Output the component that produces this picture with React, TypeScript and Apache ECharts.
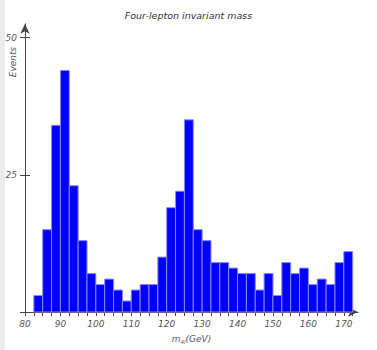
import React, { useEffect, useRef } from "react";
import * as echarts from "echarts";

// Histogram bins (lower edge, upper edge) in GeV and event counts
const binLow = [82.5, 85, 87.5, 90, 92.5, 95, 97.5, 100, 102.5, 105, 107.5, 110, 112.5, 115, 117.5, 120, 122.5, 125, 127.5, 130, 132.5, 135, 137.5, 140, 142.5, 145, 147.5, 150, 152.5, 155, 157.5, 160, 162.5, 165, 167.5, 170];
const binWidth = 2.5;
const counts = [3, 15, 34, 44, 23, 13, 7, 5, 6, 4, 2, 4, 5, 5, 10, 19, 22, 35, 15, 13, 9, 9, 8, 7, 7, 4, 7, 3, 9, 7, 8, 5, 6, 5, 9, 11];

const xTickLabels = [80, 90, 100, 110, 120, 130, 140, 150, 160, 170];
const xMinorTicks = [80, ...binLow, 172.5];
const yTickLabels = [0, 25, 50];

const FONT = "DejaVu Sans";

export default function App() {
  const ref = useRef<HTMLDivElement>(null);
  useEffect(() => {
    if (!ref.current) return;
    const chart = echarts.init(ref.current, null, { renderer: "svg" });
    const data = binLow.map((lo, i) => [lo, lo + binWidth, counts[i]]);
    const labelStyle = { fontFamily: FONT, fontStyle: "italic", fontSize: 9, color: "#555" };
    chart.setOption({
      animation: false,
      backgroundColor: "#fff",
      title: {
        text: "Four-lepton invariant mass",
        left: "center",
        top: 5,
        textStyle: { fontFamily: FONT, fontStyle: "italic", fontWeight: "normal", fontSize: 9.5, color: "#333" },
      },
      grid: { left: 25, right: 19, top: 23.8, bottom: 28, containLabel: false },
      xAxis: {
        type: "value",
        min: 80,
        max: 174,
        name: "{m|m}{s|4l}{g|(GeV)}",
        nameLocation: "middle",
        nameGap: 21,
        nameTextStyle: {
          rich: {
            m: { fontFamily: FONT, fontStyle: "italic", fontSize: 9, color: "#555", lineHeight: 12 },
            s: { fontFamily: FONT, fontStyle: "italic", fontSize: 5.5, color: "#555", lineHeight: 12, verticalAlign: "bottom", padding: [3, 0, 0, 0] },
            g: { fontFamily: FONT, fontStyle: "italic", fontSize: 9, color: "#555", lineHeight: 12 },
          },
        },
        splitLine: { show: false },
        axisLine: { show: true, lineStyle: { color: "#444", width: 1 }, symbol: ["none", "arrow"], symbolSize: [7, 10] },
        axisTick: { show: true, length: 4, lineStyle: { color: "#444" }, customValues: xMinorTicks },
        axisLabel: { ...labelStyle, margin: 7, customValues: xTickLabels },
      },
      yAxis: [
        {
          type: "value",
          min: 0,
          max: 52.5,
          position: "left",
          splitLine: { show: false },
          axisLine: { show: true, lineStyle: { color: "#444", width: 1 }, symbol: ["none", "arrow"], symbolSize: [7, 10] },
          axisTick: { show: true, length: 5, lineStyle: { color: "#444" }, customValues: yTickLabels },
          axisLabel: { ...labelStyle, margin: 8, customValues: [25, 50] },
        },
        {
          type: "value",
          min: 0,
          max: 52.5,
          position: "left",
          offset: 0,
          splitLine: { show: false },
          axisLine: { show: false },
          axisTick: { show: true, inside: true, length: 5, lineStyle: { color: "#444" }, customValues: [25, 50] },
          axisLabel: { show: false },
        },
      ],
      graphic: [
        {
          type: "text",
          x: 13,
          y: 62,
          rotation: Math.PI / 2,
          style: { text: "Events", fontFamily: FONT, fontStyle: "italic", fontSize: 9, fill: "#555", align: "center", verticalAlign: "middle" },
        },
      ],
      series: [
        {
          type: "custom",
          xAxisIndex: 0,
          yAxisIndex: 0,
          encode: { x: [0, 1], y: 2 },
          data,
          renderItem: (params: any, api: any) => {
            const lo = api.value(0);
            const hi = api.value(1);
            const v = api.value(2);
            const p0 = api.coord([lo, 0]);
            const p1 = api.coord([hi, v]);
            return {
              type: "rect",
              shape: { x: p0[0], y: p1[1], width: p1[0] - p0[0], height: p0[1] - p1[1] },
              style: { fill: "#0000ff", stroke: "#8585ff", lineWidth: 1 },
            };
          },
        },
      ],
    });
    return () => chart.dispose();
  }, []);
  return (
    <div style={{ position: "fixed", left: 0, top: 0, width: 377, height: 350, background: "#fff" }}>
      <div ref={ref} style={{ position: "absolute", left: 0, top: 0, width: 377, height: 350 }} />
      <div style={{ position: "absolute", left: 0, top: 0, width: 5, height: 350, background: "#ebebeb" }} />
    </div>
  );
}
